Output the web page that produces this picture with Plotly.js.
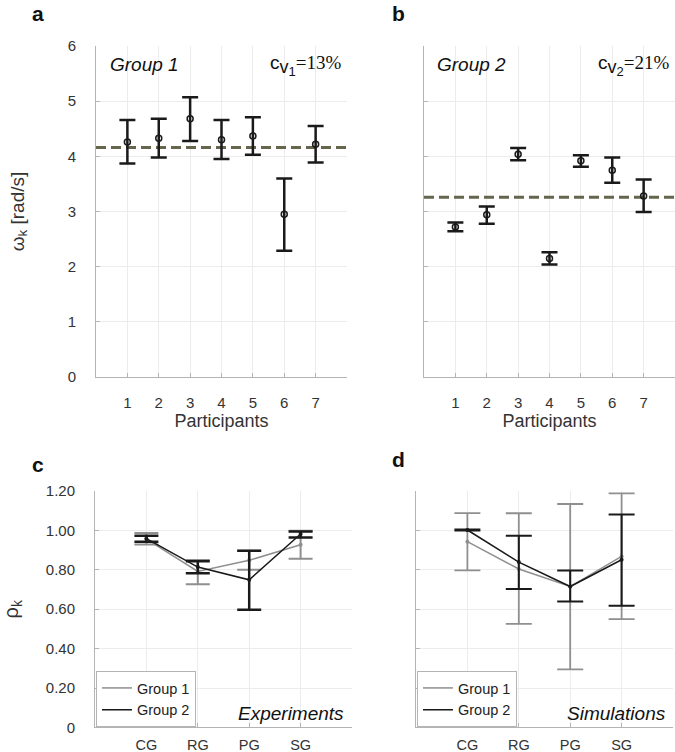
<!DOCTYPE html>
<html>
<head>
<meta charset="utf-8">
<script src="https://cdn.plot.ly/plotly-3.0.1.min.js"></script>
<style>html,body{margin:0;padding:0;background:#fff;}#chart{width:675px;height:752px;}</style>
</head>
<body>
<div id="chart"></div>
<script>
// ---------- data ----------
const participants = [1, 2, 3, 4, 5, 6, 7];
const participantTicks = ['1', '2', '3', '4', '5', '6', '7'];

const g1Omega = [4.26, 4.33, 4.68, 4.30, 4.37, 2.95, 4.22];
const g1OmegaUpper = [4.66, 4.68, 5.07, 4.66, 4.71, 3.60, 4.55];
const g1OmegaLower = [3.87, 3.98, 4.28, 3.95, 4.03, 2.29, 3.89];
const g1Mean = 4.16;

const g2Omega = [2.72, 2.94, 4.04, 2.15, 3.92, 3.75, 3.28];
const g2OmegaUpper = [2.80, 3.09, 4.15, 2.26, 4.02, 3.98, 3.58];
const g2OmegaLower = [2.64, 2.78, 3.93, 2.04, 3.81, 3.52, 2.99];
const g2Mean = 3.26;

const conditions = ['CG', 'RG', 'PG', 'SG'];

const expG1 = [0.956, 0.792, 0.848, 0.927];
const expG1Upper = [0.987, 0.850, 0.897, 0.998];
const expG1Lower = [0.929, 0.727, 0.800, 0.856];
const expG2 = [0.958, 0.814, 0.749, 0.982];
const expG2Upper = [0.973, 0.844, 0.897, 0.995];
const expG2Lower = [0.943, 0.783, 0.597, 0.964];

const simG1 = [0.943, 0.804, 0.715, 0.868];
const simG1Upper = [1.088, 1.087, 1.134, 1.188];
const simG1Lower = [0.797, 0.526, 0.295, 0.550];
const simG2 = [1.002, 0.839, 0.715, 0.851];
const simG2Upper = [1.005, 0.973, 0.797, 1.081];
const simG2Lower = [0.999, 0.702, 0.639, 0.617];

const rhoTickVals = [0, 0.2, 0.4, 0.6, 0.8, 1.0, 1.2];
const rhoTickText = ['0', '0.20', '0.40', '0.60', '0.80', '1.00', '1.20'];

// ---------- helpers ----------
const plus = (u, m) => u.map((v, i) => +(v - m[i]).toFixed(4));
const minus = (l, m) => m.map((v, i) => +(v - l[i]).toFixed(4));

const FONT = 'Liberation Sans, Arial, sans-serif';
const TXT = '#333333';
const GRAY = '#8f8f8f';
const BLACK = '#1a1a1a';
const DASH = '#66664f';

function omegaTrace(xa, ya, y, up, lo) {
  return {
    type: 'scatter', mode: 'markers', x: participants, y: y, xaxis: xa, yaxis: ya,
    showlegend: false,
    marker: {symbol: 'circle-open', size: 6, color: BLACK, line: {width: 1.5, color: BLACK}},
    error_y: {type: 'data', symmetric: false, array: plus(up, y), arrayminus: minus(lo, y),
      color: BLACK, thickness: 2.5, width: 8}
  };
}
function meanTrace(xa, ya, m) {
  return {
    type: 'scatter', mode: 'lines', x: [0, 8], y: [m, m], xaxis: xa, yaxis: ya,
    showlegend: false, hoverinfo: 'skip',
    line: {color: DASH, width: 3, dash: '10px,5px'}
  };
}
function rhoTraces(xa, ya, y, up, lo, name, color, thick, cap, legend) {
  return [
    {
      type: 'scatter', mode: 'markers', x: conditions, y: y, xaxis: xa, yaxis: ya,
      showlegend: false, marker: {size: 4, color: color},
      error_y: {type: 'data', symmetric: false, array: plus(up, y), arrayminus: minus(lo, y),
        color: color, thickness: thick, width: cap}
    },
    {
      type: 'scatter', mode: 'lines', name: name, x: conditions, y: y,
      xaxis: xa, yaxis: ya, legend: legend, line: {color: color, width: 1.5}
    }
  ];
}

const data = [
  meanTrace('x', 'y', g1Mean),
  omegaTrace('x', 'y', g1Omega, g1OmegaUpper, g1OmegaLower),
  meanTrace('x2', 'y2', g2Mean),
  omegaTrace('x2', 'y2', g2Omega, g2OmegaUpper, g2OmegaLower),
  ...rhoTraces('x3', 'y3', expG1, expG1Upper, expG1Lower, 'Group 1', GRAY, 2, 12, 'legend'),
  ...rhoTraces('x3', 'y3', expG2, expG2Upper, expG2Lower, 'Group 2', BLACK, 2.5, 12, 'legend'),
  ...rhoTraces('x4', 'y4', simG1, simG1Upper, simG1Lower, 'Group 1', GRAY, 1.8, 13, 'legend2'),
  ...rhoTraces('x4', 'y4', simG2, simG2Upper, simG2Lower, 'Group 2', BLACK, 2, 13, 'legend2')
];

const H = 752, W = 675;
const px = v => v / W;
const py = v => 1 - v / H;

const baseAxis = {
  showline: true, linecolor: '#b4b4b4', linewidth: 1, mirror: false,
  showgrid: true, gridcolor: '#ececec', gridwidth: 1, zeroline: false,
  ticks: 'inside', ticklen: 4, tickcolor: '#b4b4b4',
  tickfont: {family: FONT, size: 15, color: TXT}, automargin: false
};
function ax(o) { return Object.assign({}, baseAxis, o); }

const partXaxis = (anchor, dom) => ax({
  domain: dom, anchor: anchor, range: [0, 8], tickvals: participants, ticktext: participantTicks,
  ticklabelstandoff: 12,
  title: {text: 'Participants', font: {family: FONT, size: 18, color: TXT}, standoff: 2}
});
const condXaxis = (anchor, dom) => ax({
  domain: dom, anchor: anchor, type: 'category', range: [-1, 4], ticklabelstandoff: 4,
  tickfont: {family: FONT, size: 14.5, color: TXT}
});

const legendBase = {
  xanchor: 'left', yanchor: 'bottom',
  bgcolor: '#fff', bordercolor: '#b4b4b4', borderwidth: 1,
  font: {family: FONT, size: 14.5, color: '#222'}, itemwidth: 30, tracegroupgap: 0
};

function cvText(idx, val) {
  return 'c<sub><span style="font-size:18px">v</span><sub><span style="font-size:13px">' + idx +
    '</span></sub></sub><span style="font-family:Liberation Serif">=' + val + '</span>';
}

function letter(t, x, ytop) {
  return {text: '<b>' + t + '</b>', x: px(x), y: py(ytop), xref: 'paper', yref: 'paper',
    xanchor: 'center', yanchor: 'top', showarrow: false, borderpad: 0,
    font: {family: FONT, size: 21, color: '#111'}};
}

const layout = {
  width: W, height: H,
  margin: {l: 0, r: 0, t: 0, b: 0},
  paper_bgcolor: '#fff', plot_bgcolor: '#fff',
  font: {family: FONT, color: TXT},
  xaxis: partXaxis('y', [px(96), px(347)]),
  yaxis: ax({domain: [py(377), py(46)], anchor: 'x', range: [0, 6], dtick: 1, tick0: 0,
    ticklabelstandoff: 16,
    title: {text: 'ω<sub>k</sub> [rad/s]', font: {family: FONT, size: 19, color: TXT}, standoff: 38}}),
  xaxis2: partXaxis('y2', [px(424), px(675)]),
  yaxis2: ax({domain: [py(377), py(46)], anchor: 'x2', range: [0, 6], dtick: 1, showticklabels: false}),
  xaxis3: condXaxis('y3', [px(95), px(352)]),
  yaxis3: ax({domain: [py(727.4), py(491)], anchor: 'x3', range: [0, 1.2],
    tickvals: rhoTickVals, ticktext: rhoTickText, ticklabelstandoff: 16,
    title: {text: 'ρ<sub>k</sub>', font: {family: FONT, size: 20, color: TXT}, standoff: 21}}),
  xaxis4: condXaxis('y4', [px(416), px(673)]),
  yaxis4: ax({domain: [py(727.4), py(491)], anchor: 'x4', range: [0, 1.2],
    tickvals: rhoTickVals, showticklabels: false}),
  legend: Object.assign({x: px(96), y: py(727)}, legendBase),
  legend2: Object.assign({x: px(417), y: py(727)}, legendBase),
  annotations: [
    letter('a', 38, 1),
    letter('b', 398, 1),
    letter('c', 38, 452),
    letter('d', 398, 447),
    {text: '<i>Group 1</i>', x: px(108), y: py(64), xref: 'paper', yref: 'paper', xanchor: 'left', yanchor: 'middle', showarrow: false, font: {family: FONT, size: 19, color: '#111'}},
    {text: '<i>Group 2</i>', x: px(435), y: py(64), xref: 'paper', yref: 'paper', xanchor: 'left', yanchor: 'middle', showarrow: false, font: {family: FONT, size: 19, color: '#111'}},
    {text: cvText(1, '13%'), x: px(343), y: py(66), xref: 'paper', yref: 'paper', xanchor: 'right', yanchor: 'middle', showarrow: false, font: {family: FONT, size: 19, color: '#111'}},
    {text: cvText(2, '21%'), x: px(671), y: py(66), xref: 'paper', yref: 'paper', xanchor: 'right', yanchor: 'middle', showarrow: false, font: {family: FONT, size: 19, color: '#111'}},
    {text: '<i>Experiments</i>', x: px(346), y: py(713), xref: 'paper', yref: 'paper', xanchor: 'right', yanchor: 'middle', showarrow: false, font: {family: FONT, size: 19, color: '#111'}},
    {text: '<i>Simulations</i>', x: px(668), y: py(713), xref: 'paper', yref: 'paper', xanchor: 'right', yanchor: 'middle', showarrow: false, font: {family: FONT, size: 19, color: '#111'}}
  ]
};

Plotly.newPlot('chart', data, layout, {displayModeBar: false, staticPlot: true});
</script>
</body>
</html>
